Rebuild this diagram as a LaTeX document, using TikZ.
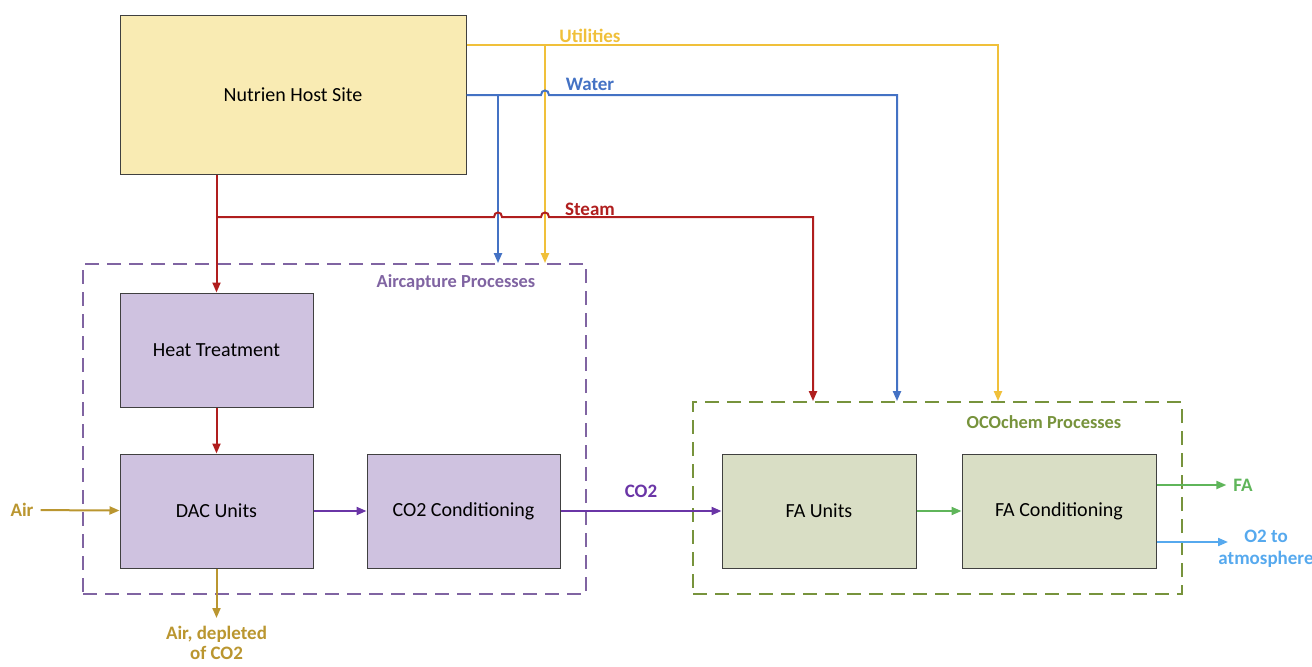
\documentclass[tikz,border=0pt]{standalone}
\usepackage{fontspec}
\setmainfont{Carlito}
\usetikzlibrary{positioning,arrows.meta}
\definecolor{hostfill}{HTML}{F9EBB3}
\definecolor{dacfill}{HTML}{CFC2E0}
\definecolor{ocofill}{HTML}{D9DEC5}
\definecolor{boxline}{HTML}{404040}
\definecolor{utilcol}{HTML}{F0C03A}
\definecolor{watercol}{HTML}{4472C4}
\definecolor{steamcol}{HTML}{B01E1E}
\definecolor{aircapcol}{HTML}{8064A2}
\definecolor{co2col}{HTML}{6A35A6}
\definecolor{ocochemcol}{HTML}{77933C}
\definecolor{facol}{HTML}{5FB55A}
\definecolor{o2col}{HTML}{56A9EE}
\definecolor{aircol}{HTML}{BA9630}
\tikzset{
  unitbox/.style={draw=boxline, line width=0.5pt, minimum width=96.5pt, minimum height=57pt, inner sep=0pt, font=\fontsize{10}{12}\selectfont},
  groupbox/.style={draw, dash pattern=on 7pt off 4pt, line width=0.9pt, inner sep=0pt},
  flow/.style={line width=1pt, -{Triangle[length=5pt,width=4pt]}},
  lbl/.style={font=\bfseries\fontsize{9.5}{11}\selectfont, align=center},
}

\begin{document}
\begin{tikzpicture}[x=0.5pt, y=0.5pt]
    \useasboundingbox (0,0) rectangle (1312,666);

    \node[groupbox, draw=aircapcol, minimum width=251.5pt, minimum height=165pt] (aircap) at (334.5,237) {};
    \node[groupbox, draw=ocochemcol, minimum width=244.5pt, minimum height=96pt] (ocochem) at (937.5,168) {};
    \node[lbl, text=aircapcol, font=\bfseries\fontsize{9.2}{11}\selectfont] (aircaplbl) at (456,384) {Aircapture Processes};
    \node[lbl, text=ocochemcol, font=\bfseries\fontsize{9.2}{11}\selectfont] (ocochemlbl) at (1044,244) {OCOchem Processes};

    \node[unitbox, fill=hostfill, minimum width=173pt, minimum height=79.5pt] (host) at (293,571) {Nutrien Host Site};
    \node[unitbox, fill=dacfill] (heat) at (216.5,316) {Heat Treatment};
    \node[unitbox, fill=dacfill, below=23pt of heat] (dac) {DAC Units};
    \node[unitbox, fill=dacfill, right=26.5pt of dac] (cond) {CO2 Conditioning};
    \node[unitbox, fill=ocofill, minimum width=97pt, right=80.5pt of cond] (faunits) {FA Units};
    \node[unitbox, fill=ocofill, minimum width=97pt, right=22.5pt of faunits] (facond) {FA Conditioning};

    \node[lbl, text=aircol] (airin) at (22,156) {Air};
    \coordinate (depltip) at (216.5,48);
    \node[lbl, text=aircol, font=\bfseries\fontsize{9.5}{10}\selectfont, inner sep=1pt, below=3pt of depltip] (airout) {Air, depleted\\of CO2};
    \node[lbl, text=facol] (fa) at (1243,181) {FA};
    \node[lbl, text=o2col] (o2) at (1266,117) {O2 to\\atmosphere};
    \coordinate (o2tip) at (1228,124);

    \node[lbl, text=utilcol] (utillbl) at (590,630) {Utilities};
    \node[lbl, text=watercol] (waterlbl) at (590,582) {Water};
    \node[lbl, text=steamcol] (steamlbl) at (590,457) {Steam};

    % utilities and water
    \draw[flow, utilcol] (host.east |- 0,621) -- (998,621) -- (998,0 |- ocochem.north);
    \draw[flow, utilcol] (545,621) -- (545,0 |- aircap.north);
    \draw[flow, watercol] (498,571) -- (498,0 |- aircap.north);
    \draw[flow, watercol] (host.east) -- (541,571) .. controls (541,577) and (549,577) .. (549,571)
        -- (897,571) -- (897,0 |- ocochem.north);

    % steam
    \coordinate (steamsplit) at (heat.north |- 0,449);
    \draw[flow, steamcol] (host.south -| heat.north) -- (heat.north);
    \draw[flow, steamcol] (steamsplit) -- (494,449) .. controls (494,455) and (502,455) .. (502,449)
        -- (541,449) .. controls (541,455) and (549,455) .. (549,449)
        -- (813,449) -- (813,0 |- ocochem.north);
    \draw[flow, steamcol] (heat) -- (dac);

    \draw[flow, aircol] (airin) -- (dac);
    \draw[flow, aircol] (dac) -- (depltip);
    \draw[flow, co2col] (dac) -- (cond);
    \draw[flow, co2col] (cond) -- node[lbl, above=3pt] {CO2} (faunits);
    \draw[flow, facol] (faunits) -- (facond);
    \draw[flow, facol] (facond.east |- fa) -- (fa.west);
    \draw[flow, o2col] (facond.east |- o2tip) -- (o2tip);
\end{tikzpicture}
\end{document}
